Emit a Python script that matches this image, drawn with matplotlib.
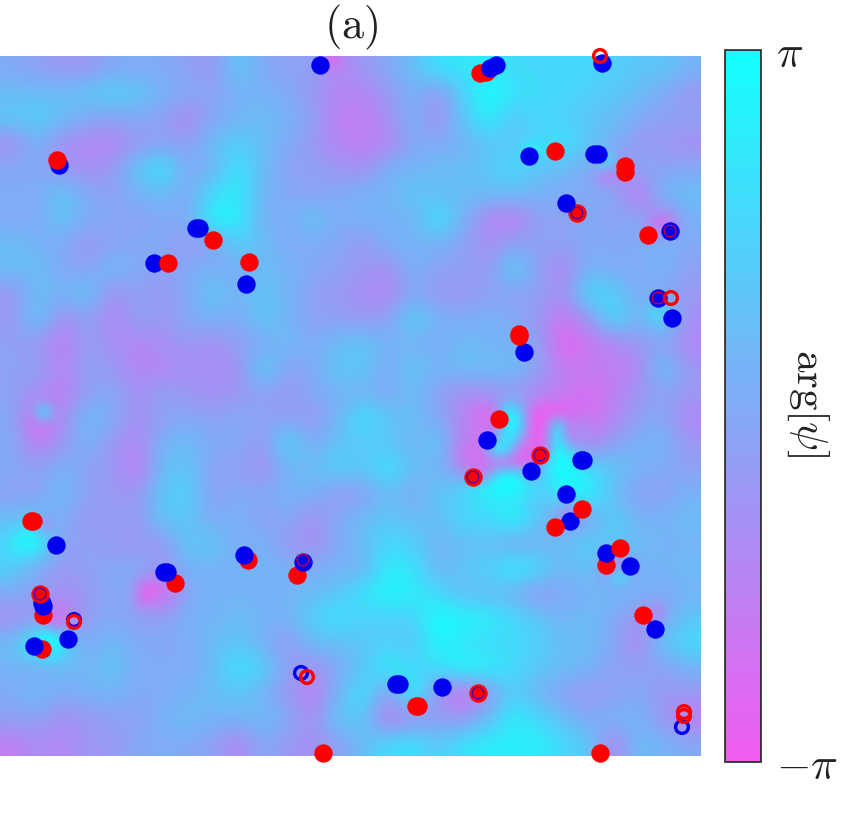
import numpy as np
import matplotlib
matplotlib.use("Agg")
import matplotlib.pyplot as plt
from matplotlib.colors import LinearSegmentedColormap

plt.rcParams['mathtext.fontset'] = 'cm'
W, H = 862, 823

# phase field, read on a coarse grid, in units of pi/9
field = [
 [ 0,-1,-2,-2, 0, 0, 0,-1,-2, 3, 0,-1,-1,-4,-2, 0, 2, 6, 6, 7, 5, 5, 5, 5, 4, 3, 3, 1],
 [ 2, 2, 2, 3, 4, 3, 1, 0,-1, 1, 1, 0,-2,-4,-4,-2, 1,-2, 4, 9, 6, 5, 5, 4, 3, 2, 0,-2],
 [ 3, 4, 2, 0,-1, 0,-1,-4, 0, 1, 2, 1,-1,-5,-5,-3, 1,-3, 3, 7, 3, 5, 4, 3, 2, 0,-1,-1],
 [-3, 1,-3,-4,-4,-2,-1,-1, 2, 4, 2, 0,-2,-4,-5,-4, 0, 0, 1, 3, 3, 4, 6, 3, 1,-2,-2,-3],
 [ 0, 0,-2,-3,-2, 3, 6, 0, 1, 6, 2,-1,-1,-2,-3, 1, 1, 2, 2, 3, 5, 3, 2, 0,-5, 0,-1, 0],
 [ 0, 0, 3, 0,-1, 1, 2, 0, 5, 7, 1, 0,-1, 0, 1, 1, 3, 2, 2, 2, 2, 1, 0, 0, 0,-6, 2, 2],
 [ 0, 0, 3, 0, 0,-1, 0, 0, 8, 7, 1, 0, 3, 0, 1, 1, 1, 6, 1,-4,-5,-1,-1, 0,-1, 0,-5, 1],
 [ 2, 1, 0,-2,-1, 0, 0,-2,-1, 4, 2, 0, 0, 0,-2, 1, 1, 1,-1,-3,-1,-1,-1, 0, 0, 0, 1, 0],
 [ 2, 2, 0,-1, 2, 0,-1, 0, 1, 0, 2, 1, 0,-1,-2,-3, 1,-1,-1,-2, 4,-1,-4, 1, 0, 0, 1,-1],
 [-2, 2, 1, 3,-3,-1,-2, 0, 3, 1, 3, 1,-1,-2,-3,-4, 0,-2,-2,-1,-1,-1,-3, 5, 4, 0, 0,-2],
 [-2, 3,-3,-1,-4,-1,-2, 0, 1, 0, 3, 1,-1,-1,-2,-1, 4, 1, 0, 1, 0,-2,-6,-2, 5, 1, 5,-3],
 [-1,-2,-5,-1,-3,-4,-3,-2,-3,-1, 0, 2, 0, 2, 3, 1, 1, 0, 2, 1, 1,-1,-8,-6,-4,-2,-1,-4],
 [-1,-1,-4,-1,-2,-4,-4,-3,-3,-3, 4,-1, 0, 3, 3, 0, 3, 1, 2, 2, 2,-1,-5,-5,-5,-4, 3,-2],
 [-1,-3,-5,-1, 0,-3,-1,-2,-3,-2,-1,-2, 0, 1, 1, 0, 2,-1,-3,-3,-2,-4,-5,-7,-5,-2,-1,-2],
 [ 0,-8,-3, 2, 0,-3,-1, 0,-1, 0,-1,-1,-2, 1, 6, 3, 2, 0,-4,-7, 8,-8,-9,-7,-4,-1, 0,-4],
 [ 0,-5,-2, 1,-2,-4, 1, 2, 0, 0,-2, 5, 0, 3, 3, 3, 1, 3,-4,-7, 8,-9, 9,-4,-1, 1, 1,-2],
 [ 0,-1, 1,-1,-2,-5, 2, 3,-1,-1,-3, 1, 2, 4, 3, 6, 2, 1,-2,-8,-8,-7, 8, 5, 3, 1, 0,-1],
 [-1,-1, 2,-1,-2,-2, 3, 4,-1, 0, 0, 1, 1,-2,-1, 2, 0, 3, 4, 7, 6, 3, 6, 8, 2,-1,-1, 1],
 [ 2, 3, 0,-2,-1,-2, 3, 3, 0, 1,-1, 0,-3, 0, 2, 3, 2, 2, 5, 5, 8, 3,-2,-1, 4, 1, 1, 2],
 [ 5, 8,-1,-1,-2,-2,-2, 3, 3, 0, 1,-2,-3, 0, 2, 5, 4, 1, 2, 2, 0, 1, 2, 4, 3, 2, 1, 1],
 [ 4, 0,-2,-1, 0, 0,-2, 1, 1, 1, 1, 1, 0, 1, 1, 7, 6, 1, 3, 4, 7, 5, 1, 3,-4, 1, 1, 2],
 [ 0,-1,-3,-2, 0,-1,-8, 0, 1, 1, 1, 1, 2, 3, 6, 8, 7, 5, 2, 2, 1,-2, 0, 1, 2, 1, 0, 1],
 [-3,-2,-6,-1, 0,-1,-1, 1, 1, 2, 1, 1, 4, 6, 4, 4, 4, 9, 8, 7, 5, 3, 1, 2, 0,-3, 0, 3],
 [ 2, 9, 5, 0, 2, 0, 0, 0, 2, 3, 1,-2, 2, 2, 3, 4, 3, 8, 6, 5, 5, 4, 2, 2, 0,-4, 3, 5],
 [ 1, 0, 2, 1, 3, 0, 0, 0, 2, 6, 4,-1,-3, 0, 3, 7, 5, 5, 8, 7, 5, 3, 2, 1,-1,-1,-1, 1],
 [ 0, 2, 0, 1, 1, 0, 0, 1, 2, 3, 1,-2,-5, 1, 6,-2, 8,-3,-7,-2, 4, 1,-1,-2,-1, 0,-2,-2],
 [-1,-1,-3,-2,-1,-1, 1, 2, 1, 1, 2, 0,-3, 3, 3,-5,-3,-1,-2, 2, 7, 5, 2, 0, 1, 1,-2,-5],
 [-5,-3,-4,-2,-2, 0, 0, 0,-1,-4, 0,-2,-3,-1, 2, 5, 6, 3, 6, 7, 7, 7, 5, 3,-4, 2, 1, 0],
]
field_units = 9.0

# finer reading of the magenta region around (520, 450): x 456..581, y 412..487
core_x = [456, 469, 481, 494, 506, 519, 531, 544, 556, 569, 581]
core_y = [412, 425, 437, 450, 462, 475, 487]
core = [
 [-3,-5,-7,-7, 9, 4,-8,-9,-9,-8,-6],
 [-3,-5,-6,-7, 9, 7,-8,-9, 7,-5,-3],
 [-3,-5,-6,-4, 8, 2,-9,-8, 9,-6,-3],
 [-4,-6,-7, 9, 7,-7,-8,-7, 9, 4,-1],
 [-4,-6,-7,-7,-8,-8,-8, 3, 9, 9, 3],
 [ 0,-3,-7, 4, 9, 7,-1, 5, 8, 8, 7],
 [ 3, 5, 7, 9, 9, 8, 6, 4, 7, 8, 8],
]

# small streaks beside the vortex pairs
streak_x = [25, 37, 37, 25, 37, 44, 58, 58, 43, 55, 43, 55, 150, 150, 162, 537, 545, 608, 612, 605, 610,
            655, 660, 670, 565, 617, 620, 660, 326, 335, 660, 44]
streak_y = [537, 537, 525, 550, 550, 525, 615, 627, 635, 640, 645, 650, 583, 595, 590, 148, 152, 160, 170, 172, 180,
            230, 220, 220, 508, 560, 570, 617, 58, 60, 310, 408]
streak_v = [7, 9, 6, 7, 7, -5, -7, -7, 9, 9, 9, 8, -8, -8, -8, 9, 6, 9, 9, -8, -7,
            9, -8, -7, -7, -7, 8, -6, 9, -8, 6, 9]

# vortex positions in image-pixel-like units
red_under_x = [480, 486, 577, 606, 43, 42, 248, 175, 297]
red_under_y = [73, 72, 213, 565, 615, 649, 560, 583, 575]
blue_x = [320, 490, 496, 602, 529, 594, 598, 59, 566, 196, 199, 154, 670, 246, 672, 658, 524,
          487, 581, 583, 531, 566, 570, 606, 630, 655, 56, 164, 167, 244, 303, 42, 43, 68, 34, 396, 399, 442]
blue_y = [65, 68, 65, 63, 156, 154, 154, 165, 203, 228, 228, 263, 231, 284, 318, 298, 352,
          440, 460, 460, 471, 494, 521, 553, 566, 629, 545, 572, 572, 555, 562, 603, 606, 639, 646, 684, 684, 687]
red_over_x = [57, 555, 625, 625, 213, 168, 249, 648, 519, 519, 499, 540, 473, 582, 555, 620, 643, 31, 33,
              40, 416, 418, 478, 323, 600]
red_over_y = [160, 151, 166, 172, 240, 263, 262, 235, 334, 336, 419, 455, 477, 509, 527, 548, 615, 521, 521,
              594, 706, 706, 693, 753, 753]
blue_ring_x = [74, 301, 682]
blue_ring_y = [620, 673, 727]
red_ring_x = [600, 671, 74, 307, 684, 684]
red_ring_y = [56, 298, 622, 677, 712, 716]
thin_blue_x = [540, 473, 478, 577, 40]
thin_blue_y = [455, 477, 693, 213, 594]
thin_red_x = [670, 303, 658]
thin_red_y = [231, 560, 298]

bar_ticks = [-np.pi, np.pi]
bar_labels = [r'$-\pi$', r'$\pi$']

cmap = LinearSegmentedColormap.from_list(
    'phase', [(240/255, 92/255, 240/255), (130/255, 170/255, 245/255), (20/255, 255/255, 255/255)], N=64)

# refine the coarse reading to 12.5-unit cells, then put the finer readings in
coarse = np.array(field, dtype=float)
cx = 12.5 + 25 * np.arange(coarse.shape[1])
cy = 68.5 + 25 * np.arange(coarse.shape[0])
fx = 6.25 + 12.5 * np.arange(2 * coarse.shape[1])
fy = 62.25 + 12.5 * np.arange(2 * coarse.shape[0])
fine = np.array([np.interp(fx, cx, row) for row in coarse])
fine = np.array([np.interp(fy, cy, col) for col in fine.T]).T
for r, yy in zip(core, core_y):
    for v, xx in zip(r, core_x):
        fine[np.argmin(abs(fy - yy)), np.argmin(abs(fx - xx))] = v
for xx, yy, v in zip(streak_x, streak_y, streak_v):
    fine[np.argmin(abs(fy - yy)), np.argmin(abs(fx - xx))] = v

fig = plt.figure(figsize=(W/100, H/100), dpi=100)
ax = fig.add_axes([0, 1-756/H, 701/W, 700/H])
psi = fine * np.pi / field_units
im = ax.imshow(psi, cmap=cmap, vmin=-np.pi, vmax=np.pi, extent=(0, 701, 756, 56),
               interpolation='bicubic', aspect='auto')
ax.set_xlim(0, 701)
ax.set_ylim(756, 56)
ax.axis('off')

S = 175
ax.scatter(red_under_x, red_under_y, s=S, c='#ff0000', lw=0, zorder=3, clip_on=False)
ax.scatter(blue_x, blue_y, s=S, c='#0000f0', lw=0, zorder=4, clip_on=False)
ax.scatter(red_over_x, red_over_y, s=S, c='#ff0000', lw=0, zorder=5, clip_on=False)
ax.scatter(blue_ring_x, blue_ring_y, s=85, facecolors='none', edgecolors='#0000f0', lw=2.4, zorder=6, clip_on=False)
ax.scatter(red_ring_x, red_ring_y, s=85, facecolors='none', edgecolors='#ff0000', lw=2.4, zorder=7, clip_on=False)
ax.scatter(thin_blue_x, thin_blue_y, s=70, facecolors='none', edgecolors='#3000d0', lw=0.8, zorder=8, clip_on=False)
ax.scatter(thin_red_x, thin_red_y, s=70, facecolors='none', edgecolors='#e00030', lw=0.8, zorder=8, clip_on=False)

fig.text(351/W, 1-27/H, r'$\mathrm{(a)}$', fontsize=32, ha='center', va='center', color='#222222')

cax = fig.add_axes([725/W, 1-762/H, 36/W, 712/H])
cb = fig.colorbar(im, cax=cax, ticks=bar_ticks)
cb.ax.set_yticklabels(bar_labels)
cb.ax.tick_params(length=0, pad=11, labelsize=32, labelcolor='#222222')
cb.outline.set_linewidth(1.2)
cb.outline.set_edgecolor('#222222')
fig.text(808/W, 1-403/H, r'$\arg[\psi]$', rotation=270, fontsize=31, ha='center', va='center', color='#222222')

fig.savefig('out.png', dpi=100, facecolor='white')
